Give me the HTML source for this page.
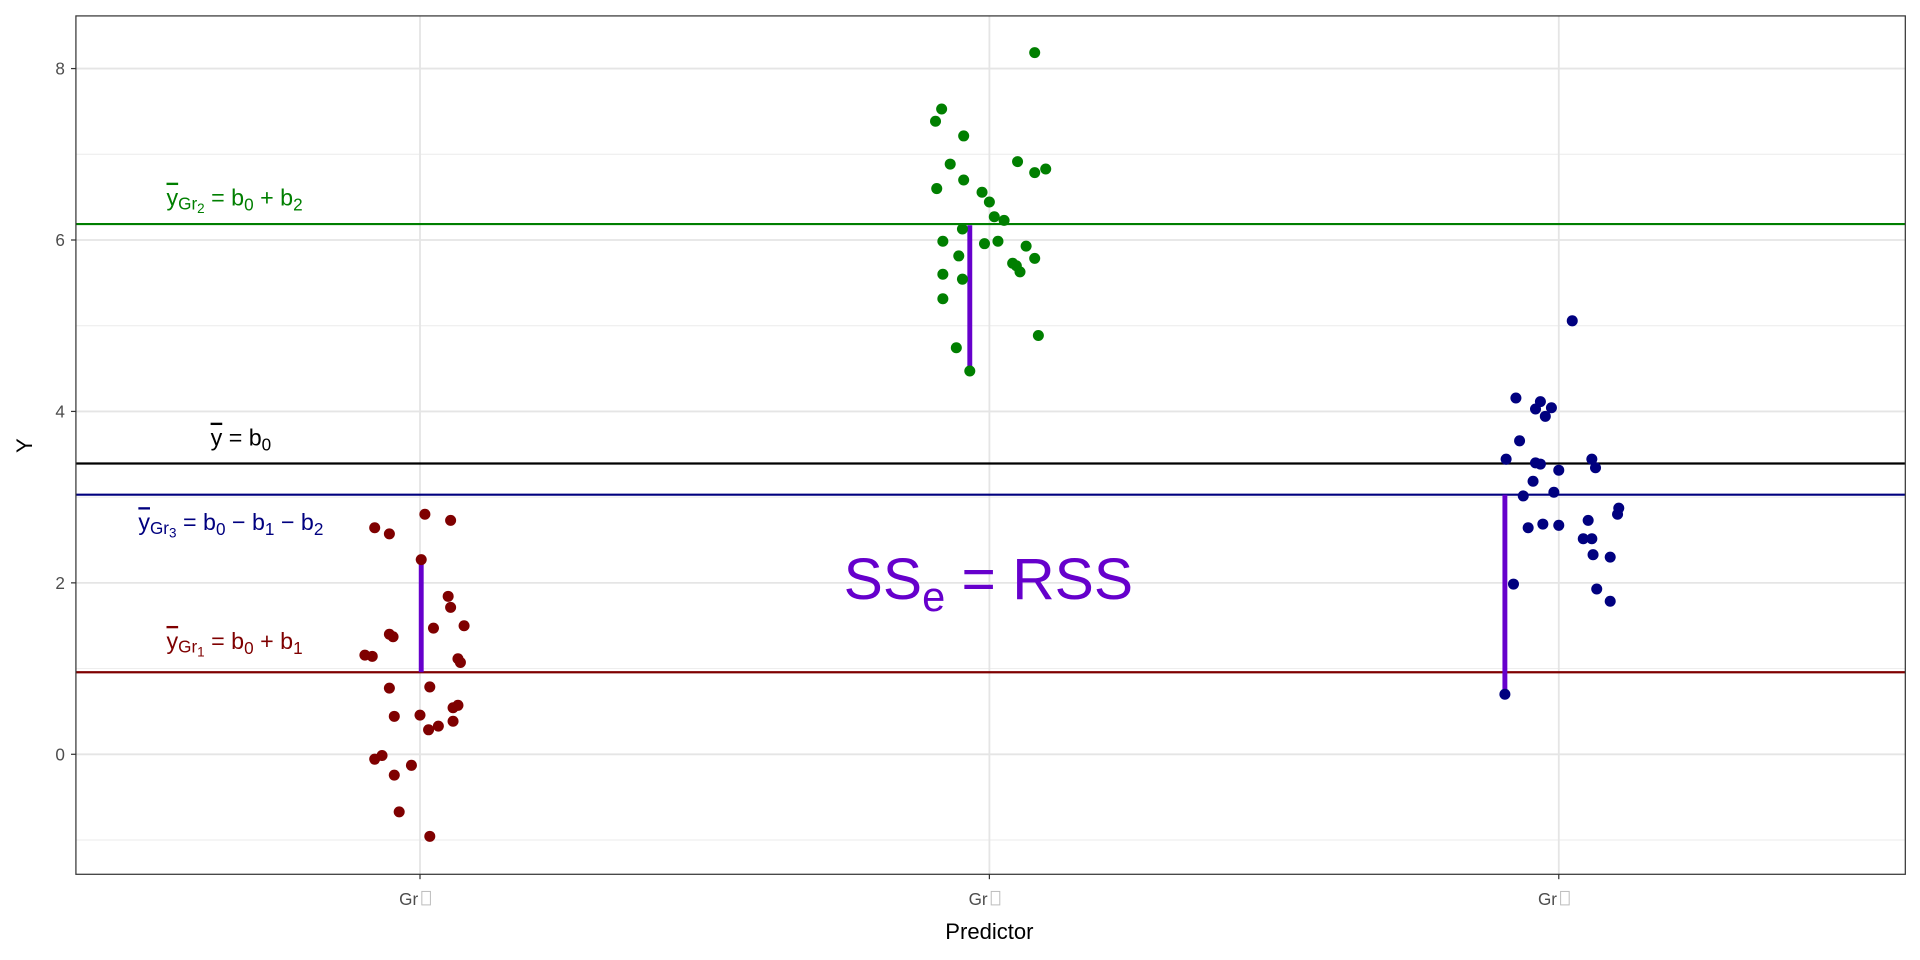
<!DOCTYPE html>
<html><head><meta charset="utf-8"><style>html,body{margin:0;padding:0;background:#fff}svg{display:block}</style></head>
<body>
<svg width="1920" height="960" viewBox="0 0 1568 784" xmlns="http://www.w3.org/2000/svg" font-family="Liberation Sans, Arial, sans-serif">
<rect width="1568" height="784" fill="#fff"/>
<g stroke="#ebebeb" stroke-width="0.8">
<line x1="62" x2="1556" y1="126" y2="126"/><line x1="62" x2="1556" y1="266" y2="266"/><line x1="62" x2="1556" y1="406" y2="406"/><line x1="62" x2="1556" y1="546" y2="546"/><line x1="62" x2="1556" y1="686" y2="686"/>
</g>
<g stroke="#e5e5e5" stroke-width="1.5">
<line x1="62" x2="1556" y1="56" y2="56"/><line x1="62" x2="1556" y1="196" y2="196"/><line x1="62" x2="1556" y1="336" y2="336"/><line x1="62" x2="1556" y1="476" y2="476"/><line x1="62" x2="1556" y1="616" y2="616"/>
<line x1="343" x2="343" y1="13" y2="714"/><line x1="808" x2="808" y1="13" y2="714"/><line x1="1273" x2="1273" y1="13" y2="714"/>
</g>
<g stroke-width="1.8">
<line x1="62" x2="1556" y1="183" y2="183" stroke="#007F00"/>
<line x1="62" x2="1556" y1="378.5" y2="378.5" stroke="#000"/>
<line x1="62" x2="1556" y1="404" y2="404" stroke="#00007F"/>
<line x1="62" x2="1556" y1="549" y2="549" stroke="#7F0000"/>
</g>
<g stroke="#6600CC" stroke-width="4">
<line x1="344" x2="344" y1="457" y2="549"/>
<line x1="792" x2="792" y1="184" y2="303"/>
<line x1="1229" x2="1229" y1="404" y2="567"/>
</g>
<g fill="#7F0000">
<circle cx="298" cy="535" r="4.5"/><circle cx="304" cy="536" r="4.5"/><circle cx="306" cy="431" r="4.5"/><circle cx="318" cy="436" r="4.5"/><circle cx="318" cy="518" r="4.5"/><circle cx="321" cy="520" r="4.5"/><circle cx="318" cy="562" r="4.5"/><circle cx="322" cy="585" r="4.5"/><circle cx="306" cy="620" r="4.5"/><circle cx="312" cy="617" r="4.5"/><circle cx="322" cy="633" r="4.5"/><circle cx="336" cy="625" r="4.5"/><circle cx="326" cy="663" r="4.5"/><circle cx="351" cy="683" r="4.5"/><circle cx="343" cy="584" r="4.5"/><circle cx="350" cy="596" r="4.5"/><circle cx="358" cy="593" r="4.5"/><circle cx="347" cy="420" r="4.5"/><circle cx="368" cy="425" r="4.5"/><circle cx="344" cy="457" r="4.5"/><circle cx="366" cy="487" r="4.5"/><circle cx="368" cy="496" r="4.5"/><circle cx="354" cy="513" r="4.5"/><circle cx="379" cy="511" r="4.5"/><circle cx="374" cy="538" r="4.5"/><circle cx="376" cy="541" r="4.5"/><circle cx="370" cy="578" r="4.5"/><circle cx="374" cy="576" r="4.5"/><circle cx="370" cy="589" r="4.5"/><circle cx="351" cy="561" r="4.5"/>
</g>
<g fill="#007F00">
<circle cx="845" cy="43" r="4.5"/><circle cx="769" cy="89" r="4.5"/><circle cx="764" cy="99" r="4.5"/><circle cx="787" cy="111" r="4.5"/><circle cx="776" cy="134" r="4.5"/><circle cx="831" cy="132" r="4.5"/><circle cx="854" cy="138" r="4.5"/><circle cx="845" cy="141" r="4.5"/><circle cx="765" cy="154" r="4.5"/><circle cx="802" cy="157" r="4.5"/><circle cx="787" cy="147" r="4.5"/><circle cx="808" cy="165" r="4.5"/><circle cx="812" cy="177" r="4.5"/><circle cx="820" cy="180" r="4.5"/><circle cx="786" cy="187" r="4.5"/><circle cx="770" cy="197" r="4.5"/><circle cx="804" cy="199" r="4.5"/><circle cx="815" cy="197" r="4.5"/><circle cx="838" cy="201" r="4.5"/><circle cx="783" cy="209" r="4.5"/><circle cx="827" cy="215" r="4.5"/><circle cx="830" cy="217" r="4.5"/><circle cx="845" cy="211" r="4.5"/><circle cx="770" cy="224" r="4.5"/><circle cx="786" cy="228" r="4.5"/><circle cx="833" cy="222" r="4.5"/><circle cx="770" cy="244" r="4.5"/><circle cx="781" cy="284" r="4.5"/><circle cx="848" cy="274" r="4.5"/><circle cx="792" cy="303" r="4.5"/>
</g>
<g fill="#00007F">
<circle cx="1284" cy="262" r="4.5"/><circle cx="1238" cy="325" r="4.5"/><circle cx="1258" cy="328" r="4.5"/><circle cx="1254" cy="334" r="4.5"/><circle cx="1267" cy="333" r="4.5"/><circle cx="1262" cy="340" r="4.5"/><circle cx="1241" cy="360" r="4.5"/><circle cx="1230" cy="375" r="4.5"/><circle cx="1254" cy="378" r="4.5"/><circle cx="1258" cy="379" r="4.5"/><circle cx="1273" cy="384" r="4.5"/><circle cx="1300" cy="375" r="4.5"/><circle cx="1303" cy="382" r="4.5"/><circle cx="1252" cy="393" r="4.5"/><circle cx="1244" cy="405" r="4.5"/><circle cx="1269" cy="402" r="4.5"/><circle cx="1248" cy="431" r="4.5"/><circle cx="1260" cy="428" r="4.5"/><circle cx="1273" cy="429" r="4.5"/><circle cx="1322" cy="415" r="4.5"/><circle cx="1321" cy="420" r="4.5"/><circle cx="1297" cy="425" r="4.5"/><circle cx="1293" cy="440" r="4.5"/><circle cx="1300" cy="440" r="4.5"/><circle cx="1301" cy="453" r="4.5"/><circle cx="1315" cy="455" r="4.5"/><circle cx="1236" cy="477" r="4.5"/><circle cx="1304" cy="481" r="4.5"/><circle cx="1315" cy="491" r="4.5"/><circle cx="1229" cy="567" r="4.5"/>
</g>
<rect x="62" y="13" width="1494" height="701" fill="none" stroke="#333" stroke-width="1"/>
<g stroke="#333" stroke-width="1">
<line x1="58" x2="62" y1="56" y2="56"/><line x1="58" x2="62" y1="196" y2="196"/><line x1="58" x2="62" y1="336" y2="336"/><line x1="58" x2="62" y1="476" y2="476"/><line x1="58" x2="62" y1="616" y2="616"/>
<line x1="343" x2="343" y1="714" y2="718"/><line x1="808" x2="808" y1="714" y2="718"/><line x1="1273" x2="1273" y1="714" y2="718"/>
</g>
<g fill="#4d4d4d" font-size="14" text-anchor="end">
<text x="53" y="61">8</text><text x="53" y="201">6</text><text x="53" y="341">4</text><text x="53" y="481">2</text><text x="53" y="621">0</text>
</g>
<g fill="#4d4d4d" font-size="14">
<text x="326" y="739">Gr</text><rect x="344.5" y="728" width="7" height="11" fill="none" stroke="#bbb" stroke-width="0.8"/>
<text x="791" y="739">Gr</text><rect x="809.5" y="728" width="7" height="11" fill="none" stroke="#bbb" stroke-width="0.8"/>
<text x="1256" y="739">Gr</text><rect x="1274.5" y="728" width="7" height="11" fill="none" stroke="#bbb" stroke-width="0.8"/>
</g>
<text x="808" y="767" font-size="18" text-anchor="middle" fill="#000">Predictor</text>
<text transform="translate(26,364) rotate(-90)" font-size="18" text-anchor="middle" fill="#000">Y</text>
<g font-size="19" xml:space="preserve">
<text x="136" y="168" fill="#007F00"><tspan text-decoration="overline">y</tspan><tspan font-size="14" dy="3">Gr</tspan><tspan font-size="11" dy="3">2</tspan><tspan dy="-6">  =  b</tspan><tspan font-size="14" dy="4">0</tspan><tspan dy="-4">  +  b</tspan><tspan font-size="14" dy="4">2</tspan></text>
<text x="172" y="364" fill="#000"><tspan text-decoration="overline">y</tspan>  =  b<tspan font-size="14" dy="4">0</tspan></text>
<text x="113" y="433" fill="#00007F"><tspan text-decoration="overline">y</tspan><tspan font-size="14" dy="3">Gr</tspan><tspan font-size="11" dy="3">3</tspan><tspan dy="-6">  =  b</tspan><tspan font-size="14" dy="4">0</tspan><tspan dy="-4">  −  b</tspan><tspan font-size="14" dy="4">1</tspan><tspan dy="-4">  −  b</tspan><tspan font-size="14" dy="4">2</tspan></text>
<text x="136" y="530" fill="#7F0000"><tspan text-decoration="overline">y</tspan><tspan font-size="14" dy="3">Gr</tspan><tspan font-size="11" dy="3">1</tspan><tspan dy="-6">  =  b</tspan><tspan font-size="14" dy="4">0</tspan><tspan dy="-4">  +  b</tspan><tspan font-size="14" dy="4">1</tspan></text>
</g>
<text x="689" y="489" font-size="48" fill="#6600CC">SS<tspan font-size="34" dy="10">e</tspan><tspan dy="-10"> = RSS</tspan></text>
</svg>
</body></html>
